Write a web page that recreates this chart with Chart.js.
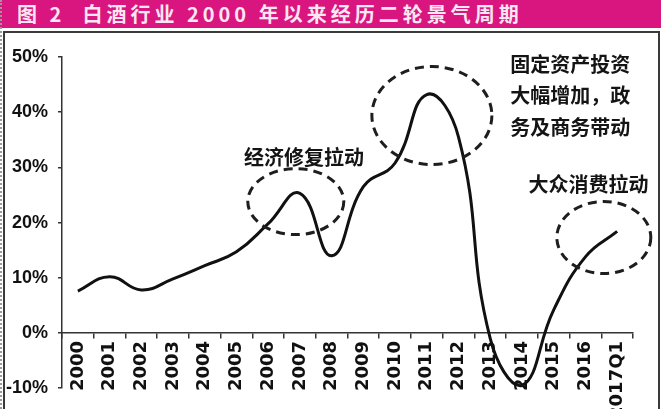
<!DOCTYPE html>
<html>
<head>
<meta charset="utf-8">
<script src="https://cdn.jsdelivr.net/npm/chart.js@4.4.1/dist/chart.umd.min.js"></script>
<style>
  html, body { margin: 0; padding: 0; background: #fff; overflow: hidden; }
  #page { position: relative; width: 661px; height: 409px; }
  #title {
    position: absolute; left: 0; top: 0; width: 661px; height: 28px;
    background: #d9157f; color: #fbe6f2;
    font: bold 20px "Noto Sans CJK SC"; letter-spacing: 4px; line-height: 28px;
    padding-left: 17px; box-sizing: border-box; white-space: pre;
  }
  #frame {
    position: absolute; left: 3px; top: 31px; width: 657px; height: 400px;
    border: 2px solid #3a3a3a; box-sizing: border-box;
  }
  #edge { position: absolute; left: 0; top: 0; height: 409px; border-left: 2px dotted #9a9a9a; }
  #c { position: absolute; left: 0; top: 0; }
</style>
</head>
<body>
<div id="page">
  <div id="title">图 2  白酒行业 2000 年以来经历二轮景气周期</div>
  <div id="frame"></div>
  <div id="edge"></div>
  <canvas id="c" width="661" height="409" style="width:661px;height:409px"></canvas>
</div>
<script>
// categories and yearly growth (%)
const years = ["2000", "2001", "2002", "2003", "2004", "2005", "2006", "2007", "2008",
  "2009", "2010", "2011", "2012", "2013", "2014", "2015", "2016", "2017Q1"];
const growth = [7.6, 10.2, 7.8, 9.8, 12.2, 14.7, 19.8, 25.3, 14.0,
  26.5, 30.8, 43.2, 35.5, -1.0, -9.5, 4.2, 13.8, 18.4];
const yTicks = [-10, 0, 10, 20, 30, 40, 50];

// callouts, anchored in data space: [category index, value]
const notes = [
  { lines: ["经济修复拉动"], at: [7.13, 31.8] },
  { lines: ["固定资产投资", "大幅增加，政", "务及商务带动"], at: [15.52, 48.7] },
  { lines: ["大众消费拉动"], at: [16.1, 27.0] }
];
const rings = [
  { at: [6.87, 23.8], rx: 48, ry: 33 },
  { at: [11.16, 39.4], rx: 60, ry: 49 },
  { at: [16.58, 17.3], rx: 47, ry: 36 }
];

const callouts = {
  id: "callouts",
  afterDraw(chart) {
    const ctx = chart.ctx;
    const x = chart.scales.x, y = chart.scales.y;
    ctx.save();
    ctx.strokeStyle = "#1e1e1e";
    ctx.lineWidth = 3;
    ctx.setLineDash([9, 6]);
    rings.forEach(r => {
      ctx.beginPath();
      ctx.ellipse(x.getPixelForValue(r.at[0]), y.getPixelForValue(r.at[1]), r.rx, r.ry, 0, 0, Math.PI * 2);
      ctx.stroke();
    });
    ctx.setLineDash([]);
    ctx.fillStyle = "#141414";
    ctx.font = 'bold 20px "Noto Sans CJK SC"';
    ctx.textAlign = "center";
    ctx.textBaseline = "middle";
    notes.forEach(n => {
      const cx = x.getPixelForValue(n.at[0]);
      const cy = y.getPixelForValue(n.at[1]);
      n.lines.forEach((t, i) => ctx.fillText(t, cx, cy + i * 31.5));
    });
    ctx.restore();
  }
};

new Chart(document.getElementById("c"), {
  type: "line",
  data: {
    labels: years,
    datasets: [{
      data: growth,
      borderColor: "#111",
      borderWidth: 3,
      pointRadius: 0,
      tension: 0.45,
      fill: false
    }]
  },
  options: {
    responsive: false,
    animation: false,
    layout: { padding: { left: 0, top: 57, right: 28, bottom: 12 } },
    plugins: { legend: { display: false }, tooltip: { enabled: false } },
    scales: {
      x: {
        type: "category",
        offset: true,
        position: { y: 0 },
        grid: { offset: true, drawOnChartArea: false, tickLength: 5, color: "#333", lineWidth: 1.5 },
        border: { color: "#333", width: 1.5 },
        ticks: {
          autoSkip: false, maxRotation: 90, minRotation: 90, padding: 3,
          color: "#111", font: { family: "DejaVu Sans", weight: "bold", size: 18 }
        }
      },
      y: {
        min: -10,
        max: 50,
        afterFit(s) { s.width = 62; },
        afterBuildTicks(s) { s.ticks = yTicks.map(v => ({ value: v })); },
        grid: { drawOnChartArea: false, tickLength: 4, color: "#333", lineWidth: 1.5 },
        border: { color: "#333", width: 1.5 },
        ticks: {
          padding: 10, color: "#111",
          font: { family: "Liberation Sans", weight: "bold", size: 18 },
          callback: v => v + "%"
        }
      }
    }
  },
  plugins: [callouts]
});
</script>
</body>
</html>
